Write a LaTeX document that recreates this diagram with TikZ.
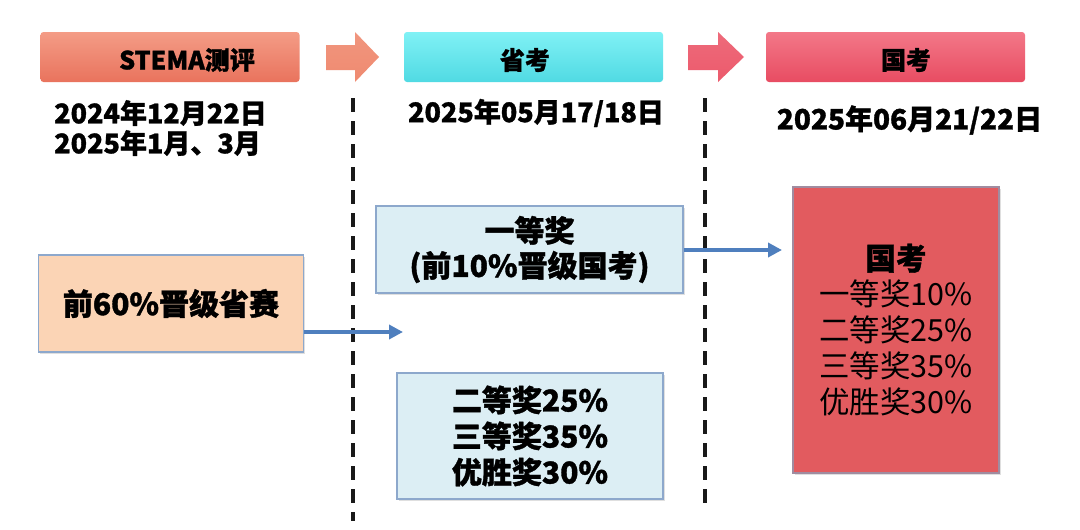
\documentclass[tikz,border=0pt]{standalone}
\usepackage{fontspec}
\setmainfont{Noto Sans CJK SC}[BoldFeatures={FakeBold=1.2}]
\usetikzlibrary{arrows.meta,shadows}
\definecolor{stemaT}{HTML}{F49C86}
\definecolor{stemaB}{HTML}{E9735D}
\definecolor{shengT}{HTML}{80F1F5}
\definecolor{shengB}{HTML}{50DAE3}
\definecolor{guoT}{HTML}{F37888}
\definecolor{guoB}{HTML}{E84C62}
\definecolor{arrA}{HTML}{EF8A70}
\definecolor{arrB}{HTML}{EC5A6C}
\definecolor{peach}{HTML}{FBD4B5}
\definecolor{lblue}{HTML}{DCEEF4}
\definecolor{boxline}{HTML}{8DA8CC}
\definecolor{guobox}{HTML}{E25B5F}
\definecolor{guoline}{HTML}{A08CA0}
\definecolor{flow}{HTML}{4F7FBE}
\begin{document}
\begin{tikzpicture}[x=1pt,y=-1pt,
  hdr/.style={rounded corners=3pt, minimum width=259pt, minimum height=50pt, inner sep=0pt},
  hdrtxt/.style={inner sep=0pt, font=\bfseries\fontsize{25}{28}\selectfont},
  datetxt/.style={inner sep=0pt, font=\bfseries\fontsize{27}{30}\selectfont},
  sepline/.style={line width=3.2pt, dash pattern=on 14pt off 9pt, black!90},
  infobox/.style={draw=boxline, line width=1.3pt, inner sep=0pt, align=center,
    drop shadow={shadow xshift=1.5pt, shadow yshift=-1.5pt, opacity=0.25}},
  flowarrow/.style={line width=4.5pt, flow, -{Triangle[length=14pt,width=14pt]}}
]
\useasboundingbox (0,0) rectangle (1080,530);
\fill[white] (0,0) rectangle (1080,530);

% headers
\node[hdr, top color=stemaT, bottom color=stemaB] (h1) at (170,57) {};
\node[hdrtxt] (h1t) at (187,60) {STEMA测评};
\node[hdr, top color=shengT, bottom color=shengB] (h2) at (533.5,57) {};
\node[hdrtxt] (h2t) at (525,60) {省考};
\node[hdr, top color=guoT, bottom color=guoB] (h3) at (895.5,57) {};
\node[hdrtxt] (h3t) at (906,60) {国考};

% big arrows
\shade[top color=arrA!90!white, bottom color=arrA] (326,45) -- (355,45) -- (355,32) -- (379,57) -- (355,82) -- (355,70) -- (326,70) -- cycle;
\shade[top color=arrB!90!white, bottom color=arrB] (688,45) -- (718,45) -- (718,32) -- (744,57) -- (718,82) -- (718,70) -- (688,70) -- cycle;

% dates
\node[datetxt, anchor=west] (d1) at (54,113) {2024年12月22日};
\node[datetxt, anchor=west] (d1b) at (54,143) {2025年1月、3月};
\node[datetxt] (d2) at (536,113) {2025年05月17/18日};
\node[datetxt, font=\bfseries\fontsize{28}{30}\selectfont] (d3) at (909.5,120) {2025年06月21/22日};

% separators
\coordinate (s1a) at (353,98);
\coordinate (s1b) at (353,521);
\coordinate (s2a) at (705,98);
\coordinate (s2b) at (705,511);
\draw[sepline] (s1a) -- (s1b);
\draw[sepline] (s2a) -- (s2b);

% boxes
\node[infobox, fill=peach, minimum width=265pt, minimum height=97pt,
  font=\bfseries\fontsize{30}{34}\selectfont] (p) at (171,303.5) {前60\%晋级省赛};
\node[infobox, fill=lblue, minimum width=307pt, minimum height=87pt,
  font=\bfseries\fontsize{30}{35}\selectfont] (y1) at (529.5,249.5) {一等奖\\(前10\%晋级国考)};
\node[infobox, fill=lblue, minimum width=266pt, minimum height=126pt,
  font=\bfseries\fontsize{30}{36}\selectfont] (y2) at (530,436) {二等奖25\%\\三等奖35\%\\优胜奖30\%};
\node[infobox, draw=guoline, fill=guobox, minimum width=206pt, minimum height=286pt,
  font=\fontsize{30.5}{36}\selectfont] (g) at (896,330) {\textbf{国考}\\一等奖10\%\\二等奖25\%\\三等奖35\%\\优胜奖30\%};

% flow arrows
\coordinate (t1) at (403,332);
\coordinate (t2) at (782,250);
\draw[flowarrow] (p.east |- t1) -- (t1);
\draw[flowarrow] (y1.east |- t2) -- (t2);
\end{tikzpicture}
\end{document}
